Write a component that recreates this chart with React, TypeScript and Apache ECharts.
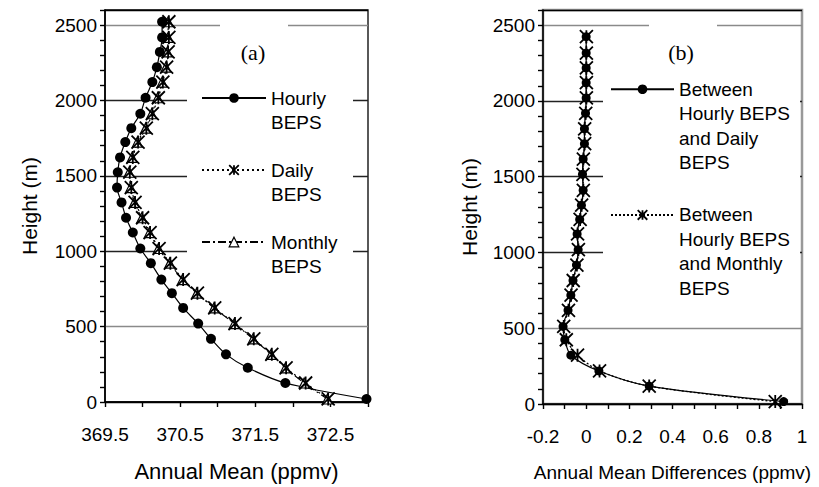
import { useEffect, useRef } from 'react';
import * as echarts from 'echarts';

// ---------- Panel (a): annual mean profiles ----------
const heightsA = [20, 126, 227, 316, 419, 520, 624, 722, 812, 921, 1018, 1124, 1222, 1324, 1422, 1524, 1622, 1724, 1816, 1912, 2018, 2122, 2221, 2322, 2418, 2522];
const hourlyA = [372.98, 371.9, 371.4, 371.11, 370.91, 370.74, 370.54, 370.39, 370.25, 370.11, 369.97, 369.87, 369.78, 369.72, 369.66, 369.67, 369.7, 369.77, 369.85, 369.97, 370.04, 370.13, 370.19, 370.23, 370.26, 370.26];
const dailyA = [372.47, 372.17, 371.91, 371.72, 371.48, 371.23, 370.96, 370.73, 370.54, 370.37, 370.22, 370.1, 370.0, 369.9, 369.85, 369.83, 369.87, 369.94, 370.05, 370.13, 370.21, 370.27, 370.32, 370.34, 370.35, 370.35];
const monthlyA = [372.46, 372.15, 371.9, 371.71, 371.47, 371.22, 370.95, 370.72, 370.53, 370.36, 370.21, 370.09, 369.99, 369.89, 369.84, 369.82, 369.86, 369.93, 370.04, 370.12, 370.2, 370.26, 370.31, 370.33, 370.34, 370.34];

// ---------- Panel (b): annual mean differences ----------
const heightsB = [16, 118, 218, 322, 424, 512, 618, 718, 815, 917, 1018, 1122, 1218, 1312, 1410, 1516, 1616, 1718, 1816, 1918, 2020, 2120, 2218, 2316, 2424];
const diffDaily = [0.915, 0.292, 0.059, -0.071, -0.099, -0.107, -0.084, -0.071, -0.061, -0.045, -0.037, -0.042, -0.03, -0.022, -0.014, -0.017, -0.014, -0.008, -0.008, -0.003, 0.0, 0.0, 0.0, 0.0, 0.0];
const diffMonthly = [0.876, 0.292, 0.062, -0.04, -0.092, -0.104, -0.082, -0.07, -0.06, -0.043, -0.036, -0.04, -0.028, -0.021, -0.013, -0.015, -0.013, -0.007, -0.007, -0.002, 0.001, 0.001, 0.001, 0.001, 0.001];

// Legend texts: leading blank lines keep the icon level with the first text line
const legendLabels: Record<string, string> = {
  Hourly: '\nHourly\nBEPS',
  Daily: '\nDaily\nBEPS',
  Monthly: '\nMonthly\nBEPS',
  HD: '\n\n\nBetween\nHourly BEPS\nand Daily\nBEPS',
  HM: '\n\n\nBetween\nHourly BEPS\nand Monthly\nBEPS',
};

const FONT = '"Liberation Sans", Arial, sans-serif';
const ASTERISK = 'path://M0,0L10,10M10,0L0,10M5,0L5,10';

const zip = (xs: number[], ys: number[]) => xs.map((x, i) => [x, ys[i]]);

const yAxisCommon = (gridIndex: number, nameGap: number) => ({
  gridIndex,
  type: 'value',
  min: 0,
  max: 2600,
  interval: 500,
  axisLine: { show: true, onZero: false, lineStyle: { color: '#000', width: 1.6 } },
  axisTick: { show: true, inside: false, length: 5, lineStyle: { color: '#000', width: 1.4 } },
  minorTick: { show: true, splitNumber: 5, length: 5, lineStyle: { color: '#000', width: 1.4 } },
  axisLabel: {
    color: '#000',
    fontSize: 19,
    fontFamily: FONT,
    margin: 8,
    formatter: (v: number) => (v % 500 === 0 ? String(v) : ''),
  },
  splitLine: {
    show: true,
    lineStyle: { color: ['#000', '#8a8a8a', '#222', '#222', '#222', '#8a8a8a', '#000'], width: 1.3 },
  },
  name: 'Height (m)',
  nameLocation: 'middle',
  nameGap,
  nameTextStyle: { color: '#000', fontSize: 21, fontFamily: FONT },
});

export default function App() {
  const ref = useRef<HTMLDivElement>(null);
  useEffect(() => {
    if (!ref.current) return;
    const chart = echarts.init(ref.current, undefined, { renderer: 'svg' });
    chart.setOption({
      animation: false,
      backgroundColor: '#fff',
      grid: [
        { left: 105, top: 10, width: 263, height: 396, show: true, borderColor: '#000', borderWidth: 1.3, backgroundColor: 'transparent' },
        { left: 543, top: 10, width: 259, height: 397, show: true, borderColor: '#999', borderWidth: 2.5, backgroundColor: 'transparent' },
      ],
      xAxis: [
        {
          gridIndex: 0,
          type: 'value',
          min: 369.5,
          max: 373,
          interval: 0.5,
          axisLine: { show: true, onZero: false, lineStyle: { color: '#000', width: 1.6 } },
          axisTick: { show: true, inside: false, length: 5, lineStyle: { color: '#000', width: 1.4 } },
          axisLabel: {
            color: '#000',
            fontSize: 19,
            fontFamily: FONT,
            margin: 23,
            formatter: (v: number) => (Math.round(v * 2) % 2 === 1 ? v.toFixed(1) : ''),
          },
          splitLine: { show: false },
          name: 'Annual Mean (ppmv)',
          nameLocation: 'middle',
          nameGap: 58,
          nameTextStyle: { color: '#000', fontSize: 22, fontFamily: FONT },
        },
        {
          gridIndex: 1,
          type: 'value',
          min: -0.2,
          max: 1,
          interval: 0.2,
          axisLine: { show: true, onZero: false, lineStyle: { color: '#000', width: 1.6 } },
          axisTick: { show: true, inside: false, length: 5, lineStyle: { color: '#000', width: 1.4 } },
          minorTick: { show: true, splitNumber: 2, length: 5, lineStyle: { color: '#000', width: 1.4 } },
          axisLabel: {
            color: '#000',
            fontSize: 19,
            fontFamily: FONT,
            margin: 23,
            formatter: (v: number) => String(Math.round(v * 10) / 10),
          },
          splitLine: { show: false },
          name: 'Annual Mean Differences (ppmv)',
          nameLocation: 'middle',
          nameGap: 59,
          nameTextStyle: { color: '#000', fontSize: 19, fontFamily: FONT },
        },
      ],
      yAxis: [yAxisCommon(0, 65), yAxisCommon(1, 63)],
      legend: [
        {
          orient: 'vertical',
          left: 201,
          top: 62,
          padding: 0,
          itemGap: 0,
          itemWidth: 64,
          itemHeight: 12,
          selectedMode: false,
          z: 10,
          data: [
            { name: 'Hourly' },
            { name: 'Daily', itemStyle: { borderWidth: 1.8 } },
            { name: 'Monthly', itemStyle: { borderWidth: 1.2 } },
          ],
          formatter: (n: string) => legendLabels[n],
          textStyle: { color: '#000', fontSize: 19, fontFamily: FONT, lineHeight: 24 },
        },
        {
          orient: 'vertical',
          left: 610,
          top: 3.5,
          padding: 0,
          itemGap: -45.8,
          itemWidth: 63,
          itemHeight: 12,
          selectedMode: false,
          z: 10,
          data: [{ name: 'HD' }, { name: 'HM', itemStyle: { borderWidth: 1.8 } }],
          formatter: (n: string) => legendLabels[n],
          textStyle: { color: '#000', fontSize: 19, fontFamily: FONT, lineHeight: 24.5 },
        },
      ],
      graphic: [
        { type: 'rect', z: 3, silent: true, shape: { x: 187, y: 70, width: 166, height: 205 }, style: { fill: '#fff' } },
        { type: 'rect', z: 3, silent: true, shape: { x: 220, y: 18, width: 68, height: 48 }, style: { fill: '#fff' } },
        { type: 'rect', z: 3, silent: true, shape: { x: 603, y: 60, width: 197, height: 240 }, style: { fill: '#fff' } },
        { type: 'rect', z: 3, silent: true, shape: { x: 649, y: 18, width: 68, height: 48 }, style: { fill: '#fff' } },
        { type: 'text', z: 10, x: 253, y: 52, style: { text: '(a)', font: '22px "Liberation Serif", "Times New Roman", serif', fill: '#000', align: 'center', verticalAlign: 'middle' } },
        { type: 'text', z: 10, x: 681, y: 52, style: { text: '(b)', font: '22px "Liberation Serif", "Times New Roman", serif', fill: '#000', align: 'center', verticalAlign: 'middle' } },
      ],
      series: [
        {
          name: 'Monthly',
          type: 'line',
          xAxisIndex: 0,
          yAxisIndex: 0,
          data: zip(monthlyA, heightsA),
          smooth: 0.3,
          symbol: 'triangle',
          symbolSize: 10,
          lineStyle: { color: '#000', width: 1.1, type: [8, 3, 2, 3] },
          itemStyle: { color: '#fff', borderColor: '#000', borderWidth: 1.2 },
          silent: true,
        },
        {
          name: 'Daily',
          type: 'line',
          xAxisIndex: 0,
          yAxisIndex: 0,
          data: zip(dailyA, heightsA),
          smooth: 0.3,
          symbol: ASTERISK,
          symbolSize: 13,
          lineStyle: { color: '#000', width: 1.1, type: [2, 3] },
          itemStyle: { color: '#000', borderColor: '#000', borderWidth: 1.8 },
          silent: true,
        },
        {
          name: 'Hourly',
          type: 'line',
          xAxisIndex: 0,
          yAxisIndex: 0,
          data: zip(hourlyA, heightsA),
          smooth: 0.3,
          symbol: 'circle',
          symbolSize: 10,
          lineStyle: { color: '#000', width: 1.2 },
          itemStyle: { color: '#000' },
          silent: true,
        },
        {
          name: 'HM',
          type: 'line',
          xAxisIndex: 1,
          yAxisIndex: 1,
          data: zip(diffMonthly, heightsB),
          smooth: 0.3,
          symbol: ASTERISK,
          symbolSize: 13,
          lineStyle: { color: '#000', width: 1.3, type: [2, 2] },
          itemStyle: { color: '#000', borderColor: '#000', borderWidth: 1.8 },
          silent: true,
        },
        {
          name: 'HD',
          type: 'line',
          xAxisIndex: 1,
          yAxisIndex: 1,
          data: zip(diffDaily, heightsB),
          smooth: 0.3,
          symbol: 'circle',
          symbolSize: 9,
          lineStyle: { color: '#000', width: 1.2 },
          itemStyle: { color: '#000' },
          silent: true,
        },
      ],
    });
    return () => chart.dispose();
  }, []);
  return <div ref={ref} style={{ position: 'fixed', left: 0, top: 0, width: 819, height: 487, background: '#fff' }} />;
}
